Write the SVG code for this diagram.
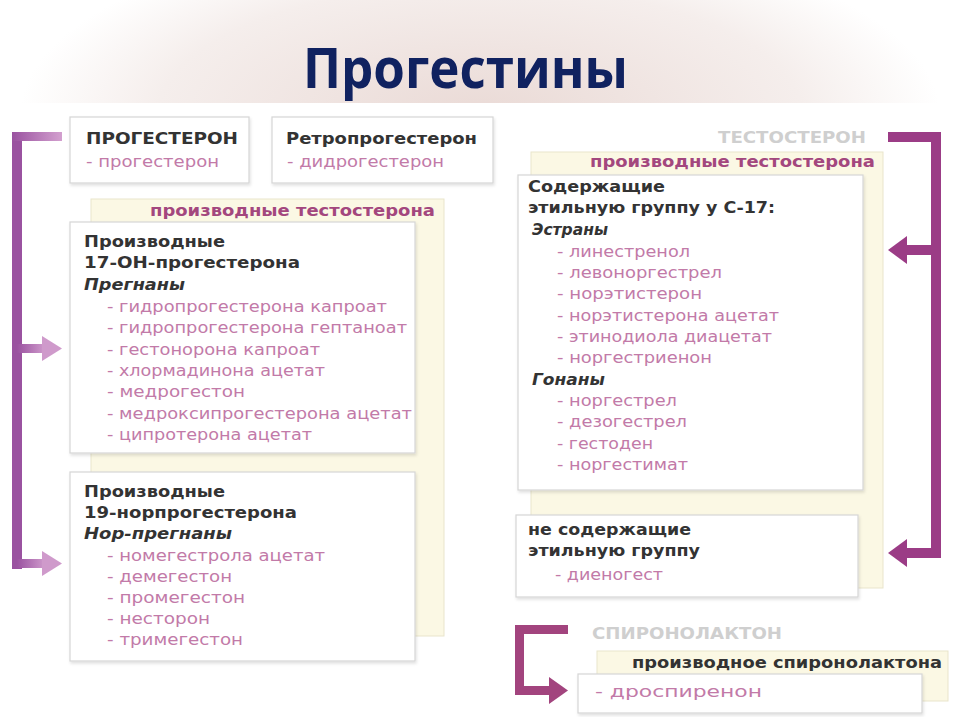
<svg xmlns="http://www.w3.org/2000/svg" width="960" height="720" viewBox="0 0 960 720">
  <defs>
    <radialGradient id="bgGlow" cx="480" cy="150" r="460" gradientUnits="userSpaceOnUse" gradientTransform="translate(0,90) scale(1,0.4) translate(0,-90)">
      <stop offset="0" stop-color="#eadad6"/>
      <stop offset="0.7" stop-color="#f5eeec"/>
      <stop offset="1" stop-color="#ffffff"/>
    </radialGradient>
    <linearGradient id="gradL" x1="0" y1="0" x2="1" y2="0">
      <stop offset="0" stop-color="#9a52a0"/>
      <stop offset="1" stop-color="#d3a0cf"/>
    </linearGradient>
    <filter id="sh" x="-5%" y="-5%" width="110%" height="115%">
      <feDropShadow dx="1" dy="2" stdDeviation="1.5" flood-color="#000" flood-opacity="0.12"/>
    </filter>
  </defs>
  <style>
    .white { fill: #ffffff; stroke: #d6d6d6; stroke-width: 1.2; }
    .cream { fill: #fbf8e4; stroke: #e9e5cc; stroke-width: 1; }
    .hd { font-family: "DejaVu Sans", "Liberation Sans", sans-serif; font-size: 16px; font-weight: bold; fill: #333333; }
    .it { font-family: "DejaVu Sans", "Liberation Sans", sans-serif; font-size: 16px; font-weight: bold; font-style: italic; fill: #333333; }
    .item { font-family: "DejaVu Sans", "Liberation Sans", sans-serif; font-size: 16px; fill: #c27aa8; }
    .sec { font-family: "DejaVu Sans", "Liberation Sans", sans-serif; font-size: 15px; font-weight: bold; fill: #a3477e; }
    .ghost { font-family: "DejaVu Sans", "Liberation Sans", sans-serif; font-size: 15px; font-weight: bold; fill: #cfcfcf; }
    .title { font-family: "Open Sans", "Liberation Sans", sans-serif; font-size: 56px; font-weight: bold; fill: #102260; }
  </style>

  <!-- background -->
  <rect x="0" y="0" width="960" height="720" fill="#ffffff"/>
  <rect x="0" y="0" width="960" height="103" fill="url(#bgGlow)"/>

  <g id="title">
    <text class="title" x="303" y="88" textLength="325" lengthAdjust="spacingAndGlyphs">Прогестины</text>
  </g>

  <!-- cream backgrounds -->
  <g id="cream-left">
    <rect class="cream" x="91" y="199" width="353" height="437"/>
    <text class="sec" x="150" y="216" textLength="285" lengthAdjust="spacingAndGlyphs">производные тестостерона</text>
  </g>
  <g id="cream-right">
    <text class="ghost" x="718" y="143" textLength="148" lengthAdjust="spacingAndGlyphs">ТЕСТОСТЕРОН</text>
    <rect class="cream" x="531" y="152" width="352" height="436"/>
    <text class="sec" x="590" y="167" textLength="285" lengthAdjust="spacingAndGlyphs">производные тестостерона</text>
  </g>
  <g id="cream-bottom">
    <text class="ghost" x="592" y="639" textLength="190" lengthAdjust="spacingAndGlyphs">СПИРОНОЛАКТОН</text>
    <rect class="cream" x="597" y="651" width="351" height="50"/>
    <text class="hd" x="632" y="668" textLength="310" lengthAdjust="spacingAndGlyphs">производное спиронолактона</text>
  </g>

  <g id="progesteron">
    <rect class="white" x="70" y="117" width="179" height="66" filter="url(#sh)"/>
    <text class="hd" x="86" y="144" textLength="152" lengthAdjust="spacingAndGlyphs">ПРОГЕСТЕРОН</text>
    <text class="item" x="86" y="167" textLength="133" lengthAdjust="spacingAndGlyphs">- прогестерон</text>
  </g>

  <g id="retroprogesteron">
    <rect class="white" x="272" y="117" width="221" height="66" filter="url(#sh)"/>
    <text class="hd" x="286" y="144" textLength="191" lengthAdjust="spacingAndGlyphs">Ретропрогестерон</text>
    <text class="item" x="287" y="167" textLength="157" lengthAdjust="spacingAndGlyphs">- дидрогестерон</text>
  </g>

  <g id="pregnany">
    <rect class="white" x="70" y="222" width="345" height="231" filter="url(#sh)"/>
    <text class="hd" x="84" y="247" textLength="141" lengthAdjust="spacingAndGlyphs">Производные</text>
    <text class="hd" x="84" y="268" textLength="216" lengthAdjust="spacingAndGlyphs">17-ОН-прогестерона</text>
    <text class="it" x="84" y="290" textLength="101" lengthAdjust="spacingAndGlyphs">Прегнаны</text>
    <text class="item" x="107" y="312" textLength="280" lengthAdjust="spacingAndGlyphs">- гидропрогестерона капроат</text>
    <text class="item" x="107" y="333" textLength="300" lengthAdjust="spacingAndGlyphs">- гидропрогестерона гептаноат</text>
    <text class="item" x="107" y="355" textLength="213" lengthAdjust="spacingAndGlyphs">- гестонорона капроат</text>
    <text class="item" x="107" y="376" textLength="218" lengthAdjust="spacingAndGlyphs">- хлормадинона ацетат</text>
    <text class="item" x="107" y="397" textLength="138" lengthAdjust="spacingAndGlyphs">- медрогестон</text>
    <text class="item" x="107" y="419" textLength="305" lengthAdjust="spacingAndGlyphs">- медроксипрогестерона ацетат</text>
    <text class="item" x="107" y="440" textLength="205" lengthAdjust="spacingAndGlyphs">- ципротерона ацетат</text>
  </g>

  <g id="norpregnany">
    <rect class="white" x="70" y="472" width="345" height="189" filter="url(#sh)"/>
    <text class="hd" x="84" y="497" textLength="141" lengthAdjust="spacingAndGlyphs">Производные</text>
    <text class="hd" x="84" y="518" textLength="213" lengthAdjust="spacingAndGlyphs">19-норпрогестерона</text>
    <text class="it" x="84" y="539" textLength="148" lengthAdjust="spacingAndGlyphs">Нор-прегнаны</text>
    <text class="item" x="107" y="561" textLength="218" lengthAdjust="spacingAndGlyphs">- номегестрола ацетат</text>
    <text class="item" x="107" y="582" textLength="125" lengthAdjust="spacingAndGlyphs">- демегестон</text>
    <text class="item" x="107" y="603" textLength="138" lengthAdjust="spacingAndGlyphs">- промегестон</text>
    <text class="item" x="107" y="624" textLength="103" lengthAdjust="spacingAndGlyphs">- несторон</text>
    <text class="item" x="107" y="645" textLength="136" lengthAdjust="spacingAndGlyphs">- тримегестон</text>
  </g>

  <g id="ethyl">
    <rect class="white" x="518" y="175" width="345" height="315" filter="url(#sh)"/>
    <text class="hd" x="528" y="192" textLength="137" lengthAdjust="spacingAndGlyphs">Содержащие</text>
    <text class="hd" x="528" y="213" textLength="247" lengthAdjust="spacingAndGlyphs">этильную группу у С-17:</text>
    <text class="it" x="532" y="235" textLength="76" lengthAdjust="spacingAndGlyphs">Эстраны</text>
    <text class="item" x="557" y="257" textLength="133" lengthAdjust="spacingAndGlyphs">- линестренол</text>
    <text class="item" x="557" y="278" textLength="165" lengthAdjust="spacingAndGlyphs">- левоноргестрел</text>
    <text class="item" x="557" y="299" textLength="145" lengthAdjust="spacingAndGlyphs">- норэтистерон</text>
    <text class="item" x="557" y="321" textLength="222" lengthAdjust="spacingAndGlyphs">- норэтистерона ацетат</text>
    <text class="item" x="557" y="342" textLength="215" lengthAdjust="spacingAndGlyphs">- этинодиола диацетат</text>
    <text class="item" x="557" y="363" textLength="155" lengthAdjust="spacingAndGlyphs">- норгестриенон</text>
    <text class="it" x="532" y="385" textLength="73" lengthAdjust="spacingAndGlyphs">Гонаны</text>
    <text class="item" x="557" y="406" textLength="120" lengthAdjust="spacingAndGlyphs">- норгестрел</text>
    <text class="item" x="557" y="427" textLength="130" lengthAdjust="spacingAndGlyphs">- дезогестрел</text>
    <text class="item" x="557" y="449" textLength="96" lengthAdjust="spacingAndGlyphs">- гестоден</text>
    <text class="item" x="557" y="470" textLength="131" lengthAdjust="spacingAndGlyphs">- норгестимат</text>
  </g>

  <g id="no-ethyl">
    <rect class="white" x="516" y="515" width="342" height="82" filter="url(#sh)"/>
    <text class="hd" x="528" y="535" textLength="163" lengthAdjust="spacingAndGlyphs">не содержащие</text>
    <text class="hd" x="528" y="556" textLength="172" lengthAdjust="spacingAndGlyphs">этильную группу</text>
    <text class="item" x="555" y="580" textLength="108" lengthAdjust="spacingAndGlyphs">- диеногест</text>
  </g>

  <g id="drospirenon">
    <rect class="white" x="578" y="674" width="344" height="39" filter="url(#sh)"/>
    <text class="item" x="595" y="697" textLength="167" lengthAdjust="spacingAndGlyphs">- дроспиренон</text>
  </g>

  <g id="connectors">
    <!-- left bracket -->
    <rect x="12" y="132" width="10" height="437" fill="#9a52a0"/>
    <rect x="12" y="132" width="50" height="9" fill="url(#gradL)"/>
    <rect x="17" y="344" width="30" height="9" fill="url(#gradL)"/>
    <polygon points="42,336 62,348.5 42,361" fill="#cf9acb"/>
    <rect x="17" y="559" width="30" height="9" fill="url(#gradL)"/>
    <polygon points="42,551 62,563.5 42,576" fill="#cf9acb"/>
    <!-- right bracket -->
    <rect x="931" y="132" width="10" height="426" fill="#9b3c86"/>
    <rect x="888" y="132" width="53" height="10" fill="#9b3c86"/>
    <rect x="903" y="245" width="34" height="10" fill="#9b3c86"/>
    <polygon points="907,236 888,250 907,264" fill="#9b3c86"/>
    <rect x="903" y="548" width="34" height="10" fill="#9b3c86"/>
    <polygon points="907,539 888,553 907,567" fill="#9b3c86"/>
    <!-- bottom bracket -->
    <rect x="515" y="625" width="9" height="70" fill="#a2447e"/>
    <rect x="515" y="625" width="53" height="9" fill="#a2447e"/>
    <rect x="515" y="686" width="36" height="9" fill="#a2447e"/>
    <polygon points="549,677 568,690.5 549,704" fill="#a2447e"/>
  </g>
</svg>
